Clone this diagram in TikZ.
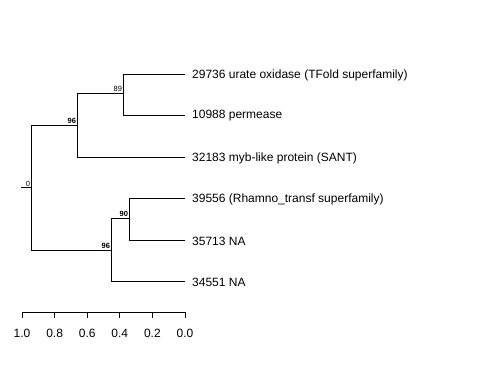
\documentclass[tikz,border=0pt]{standalone}
\usepackage{fontspec}
\setmainfont{Liberation Sans}
\begin{document}
\begin{tikzpicture}[x=1pt,y=-1pt,
  branch/.style={draw=black,line width=0.7pt},
  leaf/.style={anchor=west,inner sep=0pt,font=\fontsize{12}{13}\selectfont},
  boot/.style={anchor=south east,inner sep=0.8pt,font=\fontsize{7.5}{8}\selectfont},
  bootb/.style={boot,font=\fontsize{7.5}{8}\selectfont\bfseries},
  ticklab/.style={anchor=center,inner sep=0pt,font=\fontsize{12}{13}\selectfont}]
\useasboundingbox (0,0) rectangle (480,384);
% leaves
\node[leaf] (l1) at (192,75) {29736 urate oxidase (TFold superfamily)};
\node[leaf] (l2) at (192,116) {10988 permease};
\node[leaf] (l3) at (192,158) {32183 myb-like protein (SANT)};
\node[leaf] (l4) at (192,199) {39556 (Rhamno\_transf superfamily)};
\node[leaf] (l5) at (192,241) {35713 NA};
\node[leaf] (l6) at (192,282) {34551 NA};
% tip coordinates
\coordinate (t1) at (185,74);
\coordinate (t2) at (185,115);
\coordinate (t3) at (185,157);
\coordinate (t4) at (185,198);
\coordinate (t5) at (185,240);
\coordinate (t6) at (185,281);
% internal nodes
\coordinate (root) at (31,187.5);
\coordinate (rs) at (21,187.5);
\coordinate (A) at (77,125);
\coordinate (B) at (123,93);
\coordinate (C) at (111,250);
\coordinate (D) at (129,218);
% root
\draw[branch] (rs) -- (root);
\draw[branch] (A -| root) -- (C -| root);
\draw[branch] (A -| root) -- (A);
\draw[branch] (C -| root) -- (C);
% clade A
\draw[branch] (B -| A) -- (t3 -| A);
\draw[branch] (B -| A) -- (B);
\draw[branch] (t3 -| A) -- (t3);
\draw[branch] (t1 -| B) -- (t2 -| B);
\draw[branch] (t1 -| B) -- (t1);
\draw[branch] (t2 -| B) -- (t2);
% clade C
\draw[branch] (D -| C) -- (t6 -| C);
\draw[branch] (D -| C) -- (D);
\draw[branch] (t6 -| C) -- (t6);
\draw[branch] (t4 -| D) -- (t5 -| D);
\draw[branch] (t4 -| D) -- (t4);
\draw[branch] (t5 -| D) -- (t5);
% bootstrap labels
\node[boot] (b0) at (root) {0};
\node[bootb] (bA) at (A) {96};
\node[boot] (bB) at (B) {89};
\node[bootb] (bC) at (C) {96};
\node[bootb] (bD) at (D) {90};
% axis
\coordinate (a0) at (22,312);
\coordinate (a1) at (185,312);
\draw[branch] (a0) -- (a1);
\foreach \v/\lab [count=\i] in {1.0/1.0,0.8/0.8,0.6/0.6,0.4/0.4,0.2/0.2,0.0/0.0}{
  \coordinate (k\i) at ({185-163*\v},312);
  \draw[branch] (k\i) -- ++(0,6);
  \node[ticklab] (kl\i) at ({185-163*\v},333) {\lab};
}
\end{tikzpicture}
\end{document}
